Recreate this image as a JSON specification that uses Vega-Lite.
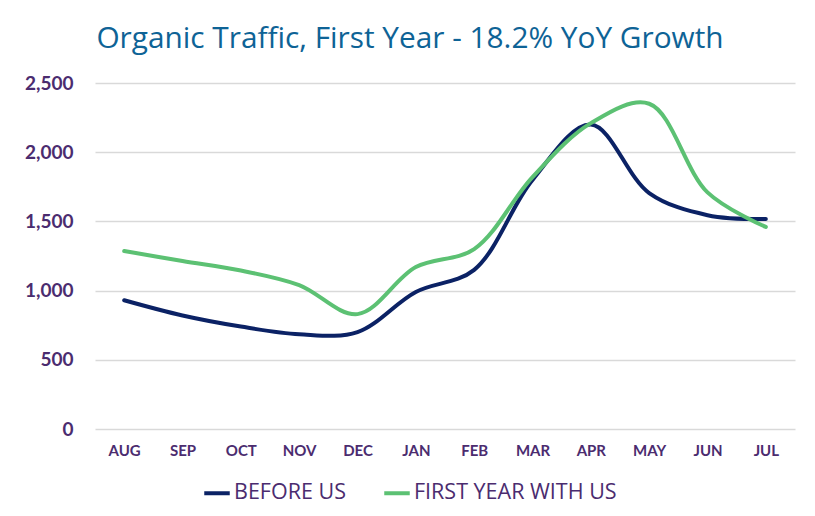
{
  "$schema": "https://vega.github.io/schema/vega-lite/v6.json",
  "autosize": "none",
  "width": 700,
  "height": 346,
  "padding": {"left": 95, "top": 83, "right": 20, "bottom": 87},
  "background": "white",
  "title": {
    "text": "Organic Traffic, First Year - 18.2% YoY Growth",
    "font": "Open Sans",
    "fontSize": 29.8,
    "fontWeight": "normal",
    "color": "#0E6396",
    "anchor": "middle",
    "dx": -35,
    "offset": 20
  },
  "data": {
    "values": [
      {"month": "AUG", "series": "BEFORE US", "value": 930},
      {"month": "SEP", "series": "BEFORE US", "value": 820},
      {"month": "OCT", "series": "BEFORE US", "value": 740},
      {"month": "NOV", "series": "BEFORE US", "value": 685},
      {"month": "DEC", "series": "BEFORE US", "value": 700},
      {"month": "JAN", "series": "BEFORE US", "value": 990},
      {"month": "FEB", "series": "BEFORE US", "value": 1150},
      {"month": "MAR", "series": "BEFORE US", "value": 1800},
      {"month": "APR", "series": "BEFORE US", "value": 2200},
      {"month": "MAY", "series": "BEFORE US", "value": 1705},
      {"month": "JUN", "series": "BEFORE US", "value": 1545},
      {"month": "JUL", "series": "BEFORE US", "value": 1517},
      {"month": "AUG", "series": "FIRST YEAR WITH US", "value": 1286},
      {"month": "SEP", "series": "FIRST YEAR WITH US", "value": 1214},
      {"month": "OCT", "series": "FIRST YEAR WITH US", "value": 1145},
      {"month": "NOV", "series": "FIRST YEAR WITH US", "value": 1040},
      {"month": "DEC", "series": "FIRST YEAR WITH US", "value": 830},
      {"month": "JAN", "series": "FIRST YEAR WITH US", "value": 1170},
      {"month": "FEB", "series": "FIRST YEAR WITH US", "value": 1300},
      {"month": "MAR", "series": "FIRST YEAR WITH US", "value": 1820},
      {"month": "APR", "series": "FIRST YEAR WITH US", "value": 2210},
      {"month": "MAY", "series": "FIRST YEAR WITH US", "value": 2350},
      {"month": "JUN", "series": "FIRST YEAR WITH US", "value": 1710},
      {"month": "JUL", "series": "FIRST YEAR WITH US", "value": 1460}
    ]
  },
  "mark": {"type": "line", "interpolate": "catmull-rom", "strokeWidth": 4, "strokeCap": "round"},
  "encoding": {
    "x": {
      "field": "month",
      "type": "nominal",
      "sort": ["AUG","SEP","OCT","NOV","DEC","JAN","FEB","MAR","APR","MAY","JUN","JUL"],
      "scale": {"type": "point", "padding": 0.5},
      "axis": {
        "title": null,
        "labelAngle": 0,
        "labelFont": "Lato",
        "labelFontSize": 15,
        "labelFontWeight": "bold",
        "labelColor": "#4B2C6F",
        "labelPadding": 14,
        "ticks": false,
        "domain": false,
        "grid": false
      }
    },
    "y": {
      "field": "value",
      "type": "quantitative",
      "scale": {"domain": [0, 2500]},
      "axis": {
        "title": null,
        "values": [0, 500, 1000, 1500, 2000, 2500],
        "format": ",.0f",
        "labelFont": "Lato",
        "labelFontSize": 19,
        "labelFontWeight": "bold",
        "labelColor": "#4B2C6F",
        "labelPadding": 22,
        "ticks": false,
        "domain": false,
        "gridColor": "#D9D9D9",
        "gridWidth": 1.5
      }
    },
    "color": {
      "field": "series",
      "type": "nominal",
      "scale": {"domain": ["BEFORE US", "FIRST YEAR WITH US"], "range": ["#0B2265", "#5CC173"]},
      "legend": {
        "title": null,
        "orient": "none",
        "legendX": 107,
        "legendY": 395,
        "direction": "horizontal",
        "symbolType": "stroke",
        "symbolStrokeWidth": 4,
        "symbolSize": 650,
        "labelFont": "Open Sans",
        "labelFontSize": 21.5,
        "labelColor": "#4B2C6F",
        "labelLimit": 400,
        "columnPadding": 30,
        "labelOffset": 2
      }
    }
  },
  "config": {"view": {"stroke": null}}
}
